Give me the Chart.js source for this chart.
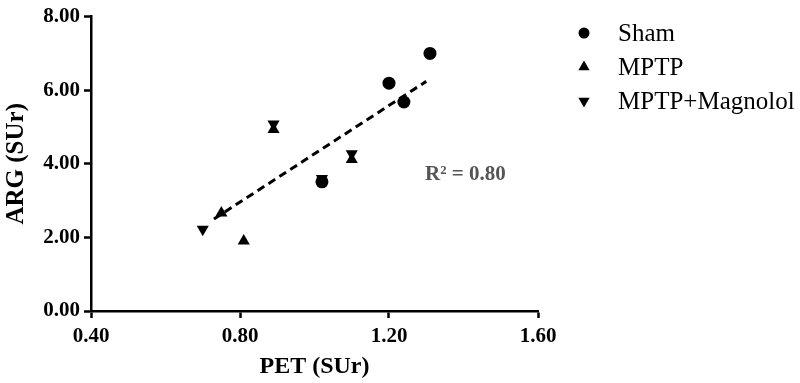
<!DOCTYPE html>
<html>
<head>
  <meta charset="UTF-8">
  <title>ARG vs PET</title>
  <script src="https://cdn.jsdelivr.net/npm/chart.js"></script>
  <style>
    html, body { margin: 0; padding: 0; background: #fff; }
    canvas { display: block; }
  </style>
</head>
<body>
  <canvas id="chart" width="800" height="383"></canvas>

  <script>
    // 數據
    const shamX = [1.31, 1.20, 1.24, 1.02];
    const shamY = [7.00, 6.19, 5.68, 3.51];

    const mptpX = [0.75, 0.81, 0.89, 1.10];
    const mptpY = [2.66, 1.90, 4.93, 4.12];

    const magX = [0.70, 0.89, 1.10, 1.02];
    const magY = [2.22, 5.08, 4.27, 3.60];

    // 回歸線兩端
    const trendX = [0.73, 1.30];
    const trendY = [2.50, 6.24];

    const xTicks = [0.40, 0.80, 1.20, 1.60];
    const yTicks = [0.00, 2.00, 4.00, 6.00, 8.00];

    const rSquaredText = 'R\u00B2 = 0.80';
    const rLabelX = 1.405;
    const rLabelY = 3.70;

    const seriesLabels = ['Sham', 'MPTP', 'MPTP+Magnolol'];

    const SERIF = '"Liberation Serif", "Times New Roman", serif';

    function toPoints(xs, ys) {
      return xs.map((x, i) => ({ x: x, y: ys[i] }));
    }

    // 自己畫圖例
    const legendPlugin = {
      id: 'sideLegend',
      afterDraw(chart) {
        const ctx = chart.ctx;
        const rows = [33, 67, 101];
        ctx.save();
        chart.data.datasets.slice(0, 3).forEach((ds, i) => {
          const cy = rows[i];
          const cx = 584;
          ctx.fillStyle = '#000';
          ctx.beginPath();
          if (ds.pointStyle === 'circle') {
            ctx.arc(cx, cy, 5.5, 0, Math.PI * 2);
          } else {
            const r = 6.5;
            const rot = (ds.rotation || 0) * Math.PI / 180;
            for (let k = 0; k < 3; k++) {
              const a = rot + k * 2 * Math.PI / 3;
              const px = cx + Math.sin(a) * r;
              const py = cy - Math.cos(a) * r;
              if (k === 0) ctx.moveTo(px, py); else ctx.lineTo(px, py);
            }
            ctx.closePath();
          }
          ctx.fill();
          ctx.font = '25px ' + SERIF;
          ctx.textAlign = 'left';
          ctx.textBaseline = 'middle';
          ctx.fillText(ds.label, 618, cy + 1);
        });
        ctx.restore();
      }
    };

    // R² 標籤
    const rLabelPlugin = {
      id: 'rLabel',
      afterDatasetsDraw(chart) {
        const ctx = chart.ctx;
        const px = chart.scales.x.getPixelForValue(rLabelX);
        const py = chart.scales.y.getPixelForValue(rLabelY);
        ctx.save();
        ctx.font = 'bold 21px ' + SERIF;
        ctx.fillStyle = '#555';
        ctx.textAlign = 'center';
        ctx.textBaseline = 'middle';
        ctx.fillText(rSquaredText, px, py);
        ctx.restore();
      }
    };

    const ctx = document.getElementById('chart').getContext('2d');
    const chart = new Chart(ctx, {
      type: 'scatter',
      data: {
        datasets: [
          {
            label: seriesLabels[0],
            data: toPoints(shamX, shamY),
            pointStyle: 'circle',
            pointRadius: 6.5,
            backgroundColor: '#000',
            borderColor: '#000',
            borderWidth: 0
          },
          {
            label: seriesLabels[1],
            data: toPoints(mptpX, mptpY),
            pointStyle: 'triangle',
            pointRadius: 7,
            backgroundColor: '#000',
            borderColor: '#000',
            borderWidth: 0
          },
          {
            label: seriesLabels[2],
            data: toPoints(magX, magY),
            pointStyle: 'triangle',
            rotation: 180,
            pointRadius: 7,
            backgroundColor: '#000',
            borderColor: '#000',
            borderWidth: 0
          },
          {
            label: 'trend',
            type: 'line',
            data: toPoints(trendX, trendY),
            showLine: true,
            borderColor: '#000',
            borderWidth: 3,
            borderDash: [8, 5],
            pointRadius: 0,
            fill: false
          }
        ]
      },
      options: {
        responsive: false,
        animation: false,
        layout: {
          padding: { top: 12, right: 262, bottom: 0, left: 0 }
        },
        plugins: {
          legend: { display: false },
          tooltip: { enabled: false }
        },
        scales: {
          x: {
            type: 'linear',
            min: 0.4,
            max: 1.6,
            afterBuildTicks: (scale) => { scale.ticks = xTicks.map(v => ({ value: v })); },
            afterFit: (scale) => { scale.height = 72; },
            grid: {
              drawOnChartArea: false,
              drawTicks: true,
              tickLength: 7,
              tickWidth: 2.5,
              tickColor: '#000'
            },
            border: { display: true, color: '#000', width: 2.5 },
            ticks: {
              color: '#000',
              padding: 6,
              font: { family: SERIF, size: 21, weight: 'bold' },
              callback: (v) => Number(v).toFixed(2)
            },
            title: {
              display: true,
              text: 'PET (SUr)',
              color: '#000',
              padding: { top: 0, bottom: 2 },
              font: { family: SERIF, size: 24, weight: 'bold' }
            }
          },
          y: {
            type: 'linear',
            min: 0,
            max: 8,
            afterBuildTicks: (scale) => { scale.ticks = yTicks.map(v => ({ value: v })); },
            afterFit: (scale) => { scale.width = 91; },
            grid: {
              drawOnChartArea: false,
              drawTicks: true,
              tickLength: 7,
              tickWidth: 2.5,
              tickColor: '#000'
            },
            border: { display: true, color: '#000', width: 2.5 },
            ticks: {
              color: '#000',
              padding: 4,
              font: { family: SERIF, size: 21, weight: 'bold' },
              callback: (v) => Number(v).toFixed(2)
            },
            title: {
              display: true,
              text: 'ARG (SUr)',
              color: '#000',
              padding: { top: 2, bottom: 0 },
              font: { family: SERIF, size: 25, weight: 'bold' }
            }
          }
        }
      },
      plugins: [legendPlugin, rLabelPlugin]
    });
  </script>
</body>
</html>
